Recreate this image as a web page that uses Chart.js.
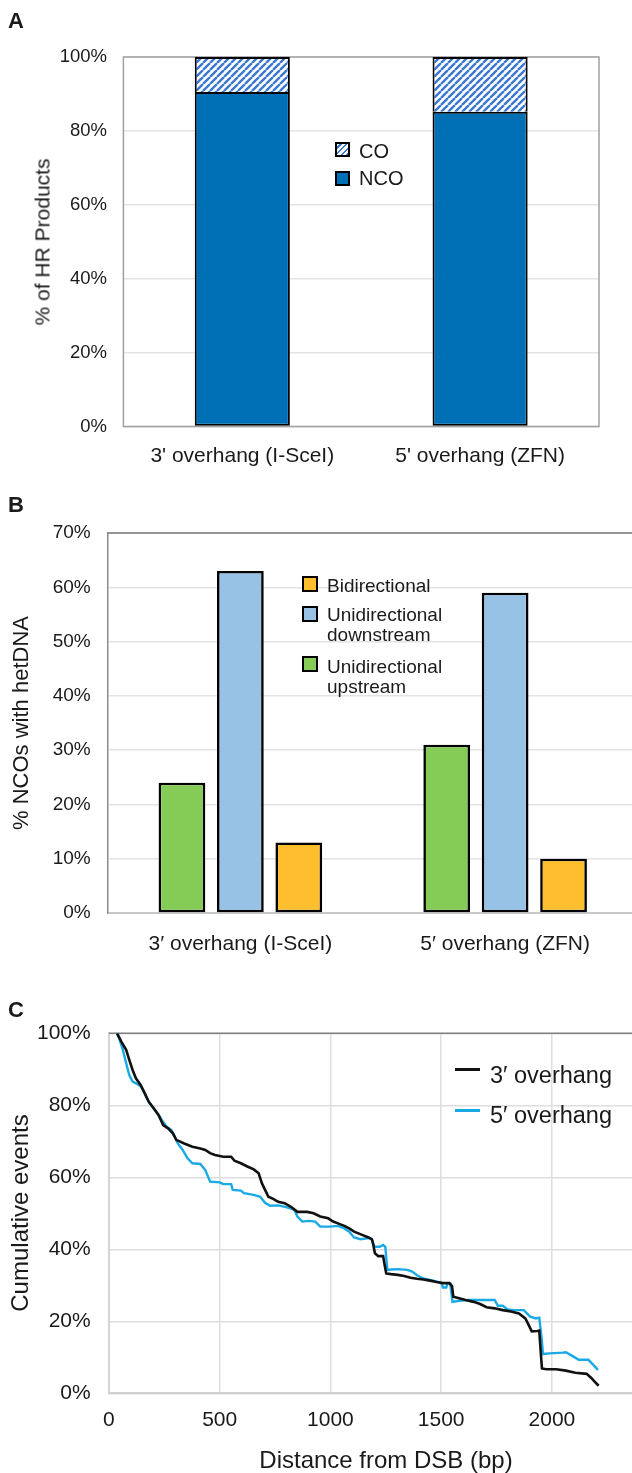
<!DOCTYPE html>
<html>
<head>
<meta charset="utf-8">
<title>HR products, hetDNA and cumulative events</title>
<script src="https://cdn.jsdelivr.net/npm/chart.js@4.4.1/dist/chart.umd.min.js"></script>
<style>
  html, body { margin: 0; padding: 0; background: #fff; overflow: hidden; }
  #fig { position: relative; width: 632px; height: 1473px; overflow: hidden;
         font-family: "Liberation Sans", Arial, sans-serif; color: #1a1a1a; }
  canvas { position: absolute; left: 0; }
  .t { position: absolute; white-space: nowrap; }
  .panel { left: 8px; font-weight: bold; font-size: 22px; line-height: 22px; }
  .ytitle { transform: translate(-50%, -50%) rotate(-90deg); line-height: 1; }
  .xtitle { transform: translate(-50%, -50%); line-height: 1; }
  .key { position: absolute; box-sizing: border-box; border: 2px solid #000; }
  .line { position: absolute; height: 3px; }
</style>
</head>
<body>
<div id="fig">
  <canvas id="cA" width="632" height="480" style="top:0px"></canvas>
  <canvas id="cB" width="650" height="500" style="top:480px"></canvas>
  <canvas id="cC" width="700" height="493" style="top:980px"></canvas>

  <!-- lettres des panneaux -->
  <div class="t panel" style="top:10px">A</div>
  <div class="t panel" style="top:494px">B</div>
  <div class="t panel" style="top:999px">C</div>

  <!-- titres d'axes -->
  <div class="t ytitle" style="left:42px; top:242px; font-size:21px">% of HR Products</div>
  <div class="t ytitle" style="left:21px; top:723px; font-size:22px">% NCOs with hetDNA</div>
  <div class="t ytitle" style="left:20px; top:1213px; font-size:24px">Cumulative events</div>
  <div class="t xtitle" style="left:386px; top:1460px; font-size:24px">Distance from DSB (bp)</div>

  <!-- légende A -->
  <div class="key" id="keyCO" style="left:335px; top:142px; width:15px; height:15px"></div>
  <div class="t" style="left:359px; top:141px; font-size:20px; line-height:20px">CO</div>
  <div class="key" style="left:335px; top:171px; width:15px; height:15px; background:#0070b6"></div>
  <div class="t" style="left:359px; top:168px; font-size:20px; line-height:20px">NCO</div>

  <!-- légende B -->
  <div class="key" style="left:302px; top:576px; width:16px; height:16px; background:#ffbe2e"></div>
  <div class="t" style="left:327px; top:576px; font-size:19px; line-height:20px">Bidirectional</div>
  <div class="key" style="left:302px; top:606px; width:16px; height:16px; background:#97c1e5"></div>
  <div class="t" style="left:327px; top:605px; font-size:19px; line-height:20px">Unidirectional<br>downstream</div>
  <div class="key" style="left:302px; top:656px; width:16px; height:16px; background:#84cc55"></div>
  <div class="t" style="left:327px; top:657px; font-size:19px; line-height:20px">Unidirectional<br>upstream</div>

  <!-- légende C -->
  <div class="line" style="left:455px; top:1068px; width:25px; background:#111"></div>
  <div class="t" style="left:490px; top:1063px; font-size:23.5px; line-height:24px">3′ overhang</div>
  <div class="line" style="left:455px; top:1109px; width:25px; background:#19aae6"></div>
  <div class="t" style="left:490px; top:1103px; font-size:23.5px; line-height:24px">5′ overhang</div>
</div>

<script>
// --- Données ---
// Panneau A : % de produits HR
const catsA = ["3' overhang (I-SceI)", "5' overhang (ZFN)"];
const ncoA = [90.5, 85.2];
const coA = [9.5, 14.8];

// Panneau B : % NCOs avec hetDNA
const catsB = ["3′ overhang (I-SceI)", "5′ overhang (ZFN)"];
const upstreamB = [24, 31];
const downstreamB = [63, 59];
const bidirB = [13, 10];

// Panneau C : distributions cumulées (distance en pb, % cumulés)
const dist3 = [37, 56, 78, 92, 107, 122, 144, 158, 180, 202, 224, 245, 267, 289, 304, 340, 377, 413, 435, 457,
  479, 516, 552, 567, 596, 625, 654, 676, 691, 705, 720, 742, 764, 793, 822, 851, 895, 924, 954, 990,
  1012, 1034, 1063, 1085, 1107, 1143, 1172, 1187, 1194, 1201, 1216, 1238, 1245, 1252, 1274, 1304, 1333, 1362, 1391, 1420,
  1450, 1479, 1508, 1537, 1549, 1555, 1581, 1610, 1647, 1676, 1705, 1742, 1778, 1815, 1851, 1880, 1895, 1909, 1934, 1943,
  1949, 1955, 1975, 2019, 2063, 2106, 2157, 2179, 2194, 2211];
const cum3 = [100, 97.7, 95.4, 92.6, 89.8, 87.5, 85.6, 83.8, 81.0, 79.2, 77.3, 74.5, 73.6, 72.2, 70.4, 69.4, 68.5, 68.0, 67.6, 66.7,
  66.2, 65.7, 65.7, 64.6, 63.9, 63.0, 62.2, 61.1, 58.3, 56.5, 54.6, 54.0, 53.2, 52.8, 51.8, 50.4, 50.4, 50.0, 49.1, 48.6,
  47.7, 47.2, 46.5, 45.8, 44.9, 44.0, 43.3, 42.8, 41.2, 38.9, 38.1, 38.1, 35.6, 33.3, 33.1, 32.9, 32.6, 32.1, 31.8, 31.6,
  31.3, 30.9, 30.6, 30.6, 29.8, 26.8, 26.4, 25.9, 25.4, 24.8, 23.9, 23.6, 23.1, 22.7, 22.2, 20.8, 19.0, 17.2, 17.3, 17.4,
  12.0, 6.9, 6.7, 6.7, 6.3, 5.7, 5.4, 4.2, 3.2, 2.1];

const dist5 = [37, 49, 63, 78, 92, 107, 129, 144, 158, 180, 202, 224, 245, 260, 282, 297, 311, 333, 355, 377,
  413, 435, 457, 501, 516, 552, 559, 596, 610, 654, 683, 705, 727, 764, 800, 837, 851, 873, 902, 932,
  954, 997, 1034, 1063, 1085, 1107, 1136, 1172, 1187, 1199, 1223, 1238, 1248, 1257, 1274, 1304, 1347, 1369, 1391, 1420,
  1464, 1501, 1508, 1523, 1530, 1541, 1551, 1581, 1625, 1676, 1742, 1756, 1778, 1800, 1829, 1873, 1902, 1928, 1943, 1953,
  1960, 1990, 2048, 2063, 2092, 2121, 2165, 2187, 2208];
const cum5 = [100, 98.1, 95.4, 91.7, 88.4, 86.6, 85.9, 85.2, 83.8, 81.0, 79.2, 77.3, 75.4, 74.1, 73.1, 71.3, 69.4, 67.6, 65.3, 63.9,
  63.7, 62.0, 58.8, 58.6, 58.1, 58.1, 56.5, 56.3, 55.6, 55.1, 54.6, 52.9, 52.1, 52.2, 51.7, 51.0, 49.1, 47.7, 47.9, 47.7,
  46.3, 46.3, 46.5, 45.8, 44.9, 43.3, 42.8, 43.1, 42.8, 40.7, 40.7, 41.2, 40.7, 34.3, 34.4, 34.5, 34.3, 33.8, 32.8, 31.9,
  31.3, 30.7, 29.4, 29.4, 30.6, 30.6, 25.4, 25.7, 25.9, 25.9, 25.9, 24.3, 24.3, 23.3, 23.1, 23.1, 21.3, 20.8, 21.0, 15.7,
  10.9, 11.1, 11.3, 11.4, 10.4, 9.3, 9.3, 7.9, 6.5];

// --- Réglages communs ---
Chart.defaults.font.family = '"Liberation Sans", Arial, sans-serif';
Chart.defaults.color = '#1a1a1a';
Chart.defaults.animation = false;

const TXT = '#1a1a1a';
const pct = v => v + '%';

// cadre / ligne du haut de la zone de tracé
const framePlugin = {
  id: 'frame',
  beforeDatasetsDraw(chart, args, opts) {
    const { ctx, chartArea: a } = chart;
    ctx.save();
    ctx.strokeStyle = opts.color;
    ctx.lineWidth = opts.width;
    ctx.beginPath();
    if (opts.full) {
      ctx.rect(a.left, a.top, a.right - a.left, a.bottom - a.top);
    } else {
      ctx.moveTo(a.left, a.top);
      ctx.lineTo(a.right, a.top);
    }
    ctx.stroke();
    ctx.restore();
  }
};

// motif hachuré pour les CO
function hatch(ctxTarget) {
  const s = 7;
  const c = document.createElement('canvas');
  c.width = s; c.height = s;
  const g = c.getContext('2d');
  g.fillStyle = '#fff';
  g.fillRect(0, 0, s, s);
  g.strokeStyle = '#3b78cf';
  g.lineWidth = 2.4;
  g.beginPath();
  for (const k of [0, 1, 2]) {
    g.moveTo(k * s - s, s);
    g.lineTo(k * s, 0);
  }
  g.stroke();
  return ctxTarget.createPattern(c, 'repeat');
}

// --- Panneau A ---
const ctxA = document.getElementById('cA').getContext('2d');
const hatchA = hatch(ctxA);
document.getElementById('keyCO').style.background =
  'repeating-linear-gradient(-45deg, #3b78cf 0 1.6px, #fff 1.6px 4px)';

new Chart(ctxA, {
  type: 'bar',
  data: {
    labels: catsA,
    datasets: [
      { label: 'NCO', data: ncoA, backgroundColor: '#0070b6', borderColor: '#000',
        borderWidth: 2, borderSkipped: false },
      { label: 'CO', data: coA, backgroundColor: hatchA, borderColor: '#000',
        borderWidth: { top: 2, left: 2, right: 2, bottom: 0 }, borderSkipped: false }
    ]
  },
  options: {
    responsive: false,
    layout: { padding: { top: 57, right: 33, bottom: 0, left: 0 } },
    datasets: { bar: { barPercentage: 0.4, categoryPercentage: 1 } },
    scales: {
      x: {
        stacked: true,
        grid: { display: false, drawTicks: false },
        border: { display: false },
        ticks: { font: { size: 21 }, padding: 16.6, color: TXT },
        afterFit: s => { s.height = 53.4; }
      },
      y: {
        stacked: true, min: 0, max: 100,
        ticks: { stepSize: 20, callback: pct, font: { size: 18.5 }, padding: 16.4, color: TXT },
        grid: { color: '#e4e4e4', lineWidth: 1.5, drawTicks: false },
        border: { display: false },
        afterFit: s => { s.width = 123.4; }
      }
    },
    plugins: {
      legend: { display: false },
      tooltip: { enabled: false },
      frame: { color: '#a0a0a0', width: 1.5, full: true }
    }
  },
  plugins: [framePlugin]
});

// --- Panneau B ---
const barB = { borderColor: '#000', borderWidth: 2.6, borderSkipped: false };
new Chart(document.getElementById('cB'), {
  type: 'bar',
  data: {
    labels: catsB,
    datasets: [
      { label: 'Unidirectional upstream', data: upstreamB, backgroundColor: '#84cc55', ...barB },
      { label: 'Unidirectional downstream', data: downstreamB, backgroundColor: '#97c1e5', ...barB },
      { label: 'Bidirectional', data: bidirB, backgroundColor: '#ffbe2e', ...barB }
    ]
  },
  options: {
    responsive: false,
    layout: { padding: { top: 53, right: 12.5, bottom: 0, left: 0 } },
    datasets: { bar: { barPercentage: 0.8, categoryPercentage: 0.662 } },
    scales: {
      x: {
        z: 1,
        grid: { display: false, drawTicks: false },
        border: { color: '#c8c8c8', width: 2 },
        ticks: { font: { size: 21 }, padding: 18.4, color: TXT },
        afterFit: s => { s.height = 67; }
      },
      y: {
        min: 0, max: 70,
        ticks: { stepSize: 10, callback: pct, font: { size: 19 }, padding: 17.3, color: TXT },
        grid: { color: '#e3e3e3', lineWidth: 1.5, drawTicks: false },
        border: { color: '#8c8c8c', width: 1.5 },
        afterFit: s => { s.width = 108; }
      }
    },
    plugins: {
      legend: { display: false },
      tooltip: { enabled: false },
      frame: { color: '#7a7a7a', width: 1.5, full: false }
    }
  },
  plugins: [framePlugin]
});

// --- Panneau C ---
const pts = (xs, ys) => xs.map((x, i) => ({ x: x, y: ys[i] }));
new Chart(document.getElementById('cC'), {
  type: 'line',
  data: {
    datasets: [
      { label: '3′ overhang', data: pts(dist3, cum3), borderColor: '#111', borderWidth: 2.6,
        pointRadius: 0, tension: 0 },
      { label: '5′ overhang', data: pts(dist5, cum5), borderColor: '#19aae6', borderWidth: 2.4,
        pointRadius: 0, tension: 0 }
    ]
  },
  options: {
    responsive: false,
    layout: { padding: { top: 53.3, right: 20.1, bottom: 19.7, left: 0 } },
    scales: {
      x: {
        type: 'linear', min: 0, max: 2500,
        ticks: { stepSize: 500, callback: v => String(v), font: { size: 21 }, padding: 14, color: TXT },
        grid: { color: '#dedede', lineWidth: 1.5, drawTicks: false },
        border: { color: '#d0d0d0', width: 2 },
        afterFit: s => { s.height = 60; }
      },
      y: {
        min: 0, max: 100,
        ticks: { stepSize: 20, callback: pct, font: { size: 21 }, padding: 18.2, color: TXT },
        grid: { color: '#dedede', lineWidth: 1.5, drawTicks: false },
        border: { color: '#d4d4d4', width: 2 },
        afterFit: s => { s.width = 108.9; }
      }
    },
    plugins: {
      legend: { display: false },
      tooltip: { enabled: false },
      frame: { color: '#7f7f7f', width: 1.5, full: false }
    }
  },
  plugins: [framePlugin]
});
</script>
</body>
</html>
